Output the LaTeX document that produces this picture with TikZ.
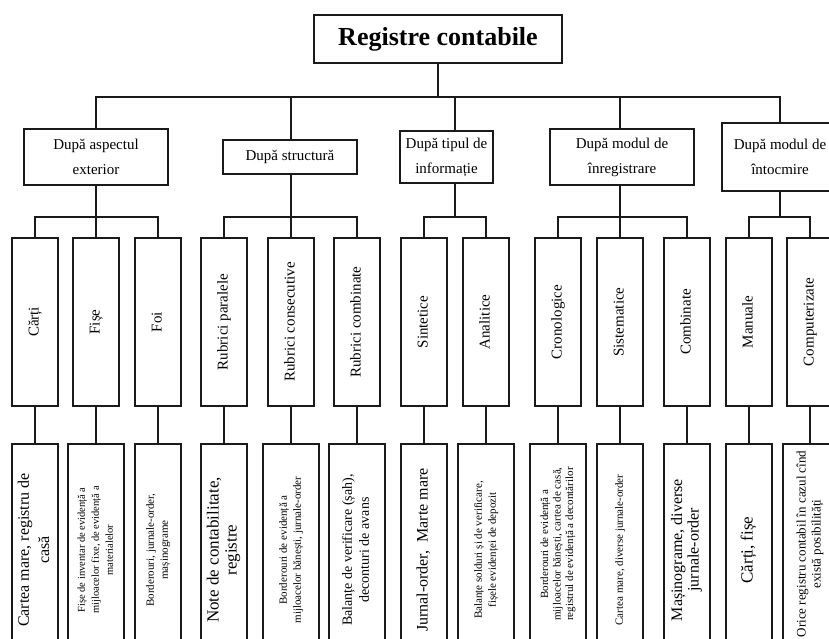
\documentclass[tikz,border=0pt]{standalone}
\usepackage{fontspec}
\setmainfont{Liberation Serif}
\usepackage{graphicx}
\definecolor{ink}{HTML}{1A1A1A}
% rotated multi-line label: size, line skip, lines
\newcommand\vlab[3]{\rotatebox{90}{\fontsize{#1}{#2}\selectfont\begin{tabular}{@{}c@{}}#3\end{tabular}}}
\begin{document}
\begin{tikzpicture}[x=1pt,y=-1pt,
  box/.style={draw=ink, line width=2pt, fill=white, inner sep=0pt, outer sep=0pt, align=center, text=black},
  cat/.style={box, font=\fontsize{15}{25}\selectfont},
  kind/.style={box, minimum width=46pt, minimum height=168pt},
  ex/.style={box, minimum height=212pt},
  link/.style={draw=ink, line width=2pt, line cap=rect},
]
\useasboundingbox (0,0) rectangle (829,639);
\clip (0,0) rectangle (829,639);
\fill[white] (0,0) rectangle (829,639);

% root
\node[box, minimum width=248pt, minimum height=48pt, font=\bfseries\fontsize{26}{30}\selectfont] (root) at (438,39) {Registre contabile};

% classification criteria
\node[cat, minimum width=144pt, minimum height=56pt] (a1) at (96,157) {După aspectul\\exterior};
\node[cat, minimum width=134pt, minimum height=34pt] (a2) at (290,157) {După structură};
\node[cat, minimum width=93pt, minimum height=52pt] (a3) at (446.5,157) {După tipul de\\informație};
\node[cat, minimum width=144pt, minimum height=56pt] (a4) at (622,157) {După modul de\\înregistrare};
\node[cat, minimum width=116pt, minimum height=68pt] (a5) at (780,157) {După modul de\\întocmire};

% register kinds
\node[kind] (b1) at (35,322) {\vlab{15}{18}{Cărți}};
\node[kind] (b2) at (96,322) {\vlab{15}{18}{Fișe}};
\node[kind] (b3) at (158,322) {\vlab{15}{18}{Foi}};
\node[kind] (b4) at (224,322) {\vlab{15}{18}{Rubrici paralele}};
\node[kind] (b5) at (291,322) {\vlab{15}{18}{Rubrici consecutive}};
\node[kind] (b6) at (357,322) {\vlab{15}{18}{Rubrici combinate}};
\node[kind] (b7) at (424,322) {\vlab{15}{18}{Sintetice}};
\node[kind] (b8) at (486,322) {\vlab{15}{18}{Analitice}};
\node[kind] (b9) at (558,322) {\vlab{15}{18}{Cronologice}};
\node[kind] (b10) at (620,322) {\vlab{15}{18}{Sistematice}};
\node[kind] (b11) at (687,322) {\vlab{15}{18}{Combinate}};
\node[kind] (b12) at (749,322) {\vlab{15}{18}{Manuale}};
\node[kind] (b13) at (810,322) {\vlab{15}{18}{Computerizate}};

% examples
\node[ex, minimum width=46pt] (c1) at (35,550) {\vlab{16}{20}{Cartea mare, registru de\\casă}};
\node[ex, minimum width=56pt] (c2) at (96,550) {\vlab{10.5}{14}{Fișe de inventar de evidență a\\mijloacelor fixe, de evidență a\\materialelor}};
\node[ex, minimum width=46pt] (c3) at (158,550) {\vlab{11}{14}{Borderouri, jurnale-order,\\mașinograme}};
\node[ex, minimum width=46pt] (c4) at (224,550) {\vlab{17}{18}{Note de contabilitate,\\registre}};
\node[ex, minimum width=56pt] (c5) at (291,550) {\vlab{11}{14}{Borderouri de evidență a\\mijloacelor bănești, jurnale-order}};
\node[ex, minimum width=56pt] (c6) at (357,550) {\vlab{14}{17}{Balanțe de verificare (șah),\\deconturi de avans}};
\node[ex, minimum width=46pt] (c7) at (424,550) {\vlab{16}{18}{Jurnal-order,\ \ Marte mare}};
\node[ex, minimum width=56pt] (c8) at (486,550) {\vlab{11}{14}{Balanțe solduri și de verificare,\\fișele evidenței de depozit}};
\node[ex, minimum width=56pt, minimum height=200pt] (c9) at (558,544) {\vlab{11}{12.5}{Borderouri de evidență a\\mijloacelor bănești, cartea de casă,\\registrul de evidență a decontărilor}};
\node[ex, minimum width=46pt] (c10) at (620,550) {\vlab{11}{14}{Cartea mare, diverse jurnale-order}};
\node[ex, minimum width=46pt] (c11) at (687,550) {\vlab{16}{16.5}{Mașinograme, diverse\\jurnale-order}};
\node[ex, minimum width=46pt] (c12) at (749,550) {\vlab{17}{18}{Cărți, fișe}};
\node[ex, minimum width=54pt, minimum height=200pt] (c13) at (810,544) {\vlab{13}{15}{Orice registru contabil în cazul cînd\\există posibilități}};

% bus levels and stems
\coordinate (bus) at (0,97);
\coordinate (bus2) at (0,217);
\coordinate (k1) at (96,0);
\coordinate (k2) at (291,0);
\coordinate (k3) at (455,0);
\coordinate (k4) at (620,0);
\coordinate (k5) at (780,0);

\draw[link] (root.south) -- (root.south |- bus);
\draw[link] (k1 |- bus) -- (k5 |- bus);
\foreach \k/\a in {k1/a1,k2/a2,k3/a3,k4/a4,k5/a5} {
  \draw[link] (\k |- bus) -- (\k |- \a.north);
  \draw[link] (\k |- \a.south) -- (\k |- bus2);
}
\draw[link] (b1.north |- bus2) -- (b3.north |- bus2);
\draw[link] (b4.north |- bus2) -- (b6.north |- bus2);
\draw[link] (b7.north |- bus2) -- (b8.north |- bus2);
\draw[link] (b9.north |- bus2) -- (b11.north |- bus2);
\draw[link] (b12.north |- bus2) -- (b13.north |- bus2);
\foreach \i in {1,...,13} {
  \draw[link] (b\i.north |- bus2) -- (b\i.north);
  \draw[link] (b\i.south) -- (b\i.south |- c\i.north);
}
\end{tikzpicture}
\end{document}
